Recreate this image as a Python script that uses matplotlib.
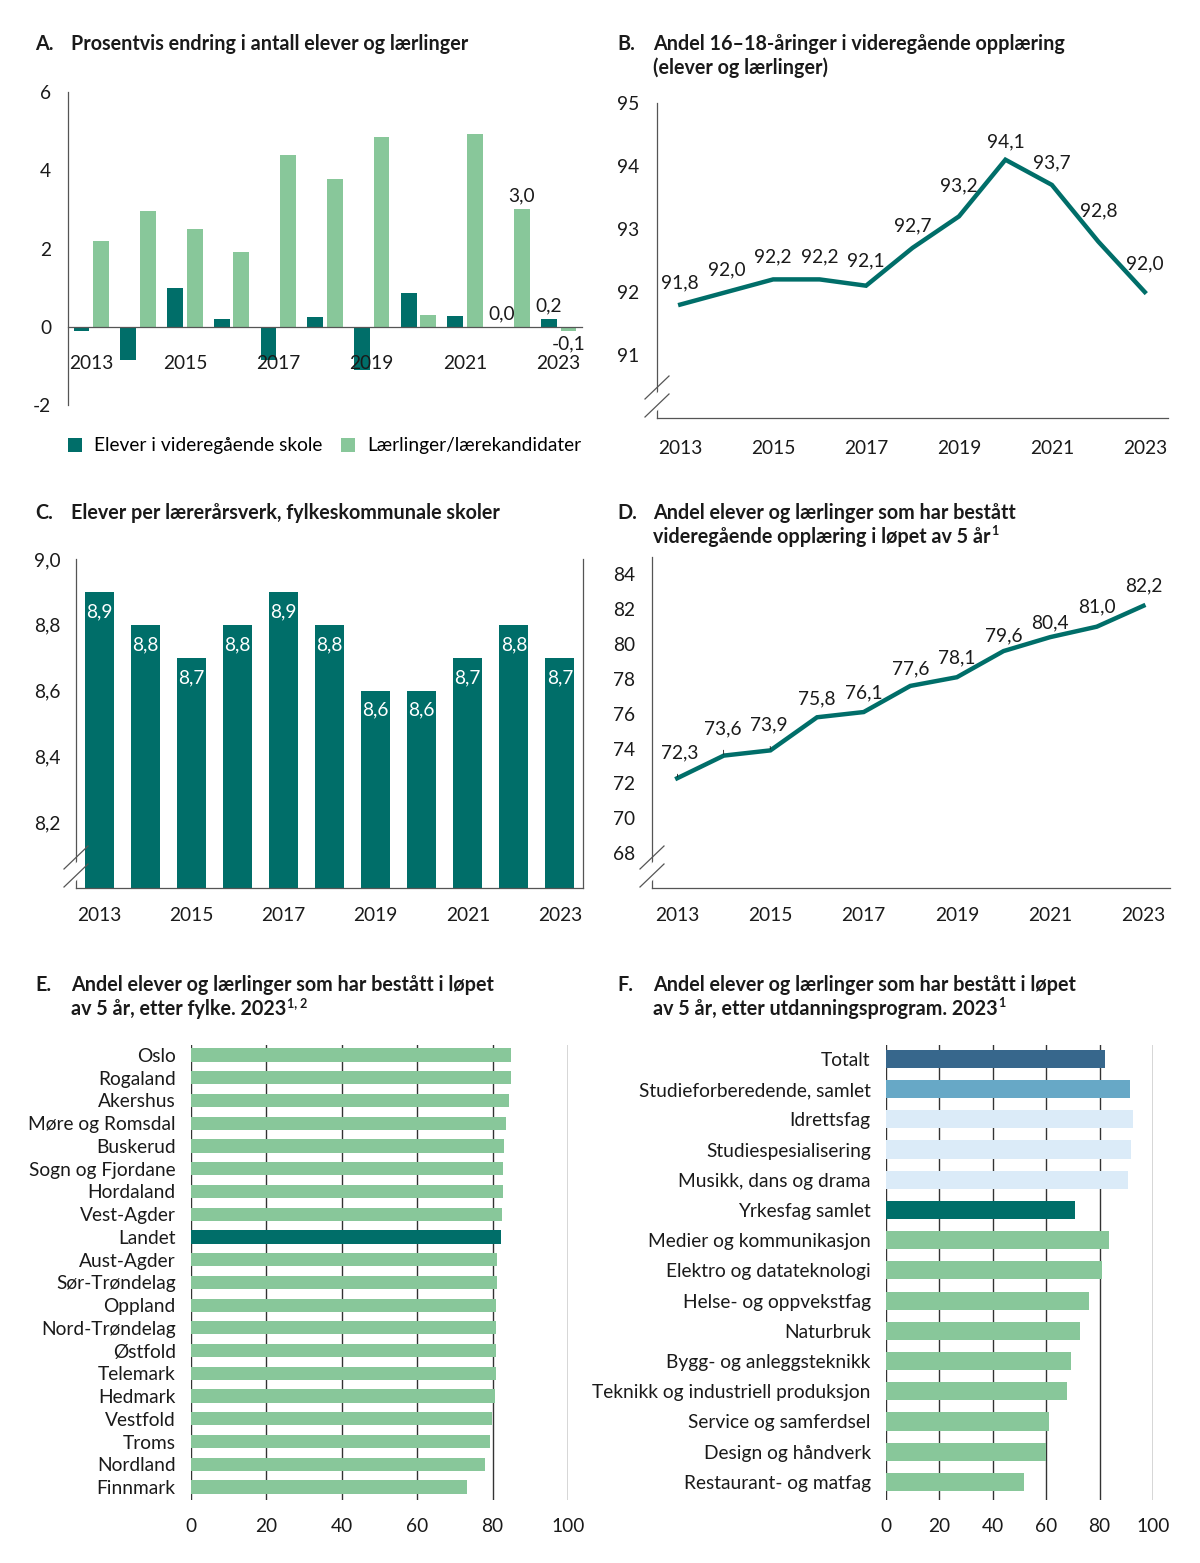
import numpy as np
import matplotlib
matplotlib.use('Agg')
import matplotlib.pyplot as plt
from matplotlib.lines import Line2D
from matplotlib.patches import Polygon

plt.rcParams['font.family'] = ['Lato', 'DejaVu Sans']
plt.rcParams['axes.unicode_minus'] = False

# ---- data ----
years = np.arange(2013, 2024)

# A: prosentvis endring
elever_endring = [-0.1, -0.85, 1.0, 0.2, -0.85, 0.26, -1.1, 0.87, 0.27, 0.0, 0.2]
laerlinger_endring = [2.18, 2.96, 2.51, 1.9, 4.38, 3.78, 4.86, 0.3, 4.92, 3.0, -0.1]

# B: andel 16-18-aaringer
andel_1618 = [91.8, 92.0, 92.2, 92.2, 92.1, 92.7, 93.2, 94.1, 93.7, 92.8, 92.0]

# C: elever per laerearsverk
elever_per_laerer = [8.9, 8.8, 8.7, 8.8, 8.9, 8.8, 8.6, 8.6, 8.7, 8.8, 8.7]

# D: bestatt i lopet av 5 aar
bestatt_5aar = [72.3, 73.6, 73.9, 75.8, 76.1, 77.6, 78.1, 79.6, 80.4, 81.0, 82.2]

# E: etter fylke
fylker = ['Oslo', 'Rogaland', 'Akershus', 'Møre og Romsdal', 'Buskerud',
          'Sogn og Fjordane', 'Hordaland', 'Vest-Agder', 'Landet', 'Aust-Agder',
          'Sør-Trøndelag', 'Oppland', 'Nord-Trøndelag', 'Østfold', 'Telemark',
          'Hedmark', 'Vestfold', 'Troms', 'Nordland', 'Finnmark']
fylke_andel = [84.9, 84.8, 84.4, 83.5, 83.1, 82.8, 82.7, 82.4, 82.2, 81.2,
               81.1, 81.0, 80.9, 80.9, 80.8, 80.7, 79.9, 79.3, 77.9, 73.1]

# F: etter utdanningsprogram
program = ['Totalt', 'Studieforberedende, samlet', 'Idrettsfag', 'Studiespesialisering',
           'Musikk, dans og drama', 'Yrkesfag samlet', 'Medier og kommunikasjon',
           'Elektro og datateknologi', 'Helse- og oppvekstfag', 'Naturbruk',
           'Bygg- og anleggsteknikk', 'Teknikk og industriell produksjon',
           'Service og samferdsel', 'Design og håndverk', 'Restaurant- og matfag']
program_andel = [82.2, 91.3, 92.6, 91.8, 90.7, 70.9, 83.5, 80.8, 75.9, 72.6,
                 69.2, 67.8, 61.2, 60.0, 51.7]

# ---- style ----
TEAL = '#006e69'
LGREEN = '#88c79a'
NAVY = '#37678c'
MBLUE = '#67a8c6'
LBLUE = '#dbebf8'
AXC = '#555555'
TXT = '#1a1a1a'
FS = 13.8
TFS = 14.2

W, H = 1200, 1563
fig = plt.figure(figsize=(W / 100, H / 100), dpi=100)
renderer = fig.canvas.get_renderer()


def add_ax(l, t, r, b):
    return fig.add_axes([l / W, 1 - b / H, (r - l) / W, (b - t) / H])


def fmt(v):
    return f'{v:.1f}'.replace('.', ',')


def title(x, y, letter, lines, sup=None):
    fig.text(x / W, 1 - y / H, letter, fontsize=TFS, fontweight='bold', color=TXT, va='center')
    t = None
    for i, s in enumerate(lines):
        t = fig.text((x + 36) / W, 1 - (y + 24 * i) / H, s, fontsize=TFS, fontweight='bold',
                     color=TXT, va='center')
    if sup:
        bb = t.get_window_extent(renderer)
        fig.text((bb.x1 + 1) / W, (bb.y1 + 2) / H, sup, fontsize=9, fontweight='bold',
                 color=TXT, va='top', ha='left')


def axis_break(x0, yb):
    p1 = [(x0 - 12, yb - 19), (x0 + 12, yb - 42)]
    p2 = [(x0 - 12, yb - 1), (x0 + 12, yb - 24)]
    mask = [(x0 - 3, yb - 22), (x0 + 3, yb - 28), (x0 + 3, yb - 10), (x0 - 3, yb - 4)]
    fig.add_artist(Polygon([(x / W, 1 - y / H) for x, y in mask], closed=True,
                           facecolor='white', edgecolor='none', transform=fig.transFigure, zorder=5))
    for p in (p1, p2):
        fig.add_artist(Line2D([p[0][0] / W, p[1][0] / W], [1 - p[0][1] / H, 1 - p[1][1] / H],
                              color=AXC, lw=0.9, transform=fig.transFigure, zorder=6))


def clean(ax):
    for s in ['top', 'right']:
        ax.spines[s].set_visible(False)
    for s in ['left', 'bottom']:
        ax.spines[s].set_color(AXC)
        ax.spines[s].set_linewidth(0.9)
    ax.tick_params(length=0, labelsize=FS, colors=TXT)


# ---- A ----
ax = add_ax(68, 92, 582, 405)
clean(ax)
bw = 0.34
ax.bar(years - 0.21, elever_endring, bw, color=TEAL, label='Elever i videregående skole')
ax.bar(years + 0.21, laerlinger_endring, bw, color=LGREEN, label='Lærlinger/lærekandidater')
ax.set_xlim(2012.5, 2023.5)
ax.set_ylim(-2, 6)
ax.set_yticks([-2, 0, 2, 4, 6])
ax.spines['bottom'].set_position(('data', 0))
ax.set_xticks(years[::2])
ax.set_xticklabels([str(y) for y in years[::2]])
ax.tick_params(axis='x', pad=20)
ax.tick_params(axis='y', pad=12)
for yr in (2022, 2023):
    i = yr - 2013
    for off, vals in ((-0.21, elever_endring), (0.21, laerlinger_endring)):
        v = vals[i]
        if v >= 0:
            ax.text(yr + off, v + 0.12, fmt(v), ha='center', va='bottom', fontsize=FS, color=TXT)
        else:
            ax.text(yr + off, v - 0.12, fmt(v), ha='center', va='top', fontsize=FS, color=TXT)
ax.legend(loc='center left', bbox_to_anchor=(60 / W, 1 - 446 / H), bbox_transform=fig.transFigure,
          ncol=2, frameon=False, fontsize=FS, handlelength=0.75, handleheight=0.75,
          handletextpad=0.6, columnspacing=1.0, borderaxespad=0)
title(35, 44, 'A.', ['Prosentvis endring i antall elever og lærlinger'])

# ---- B ----
ax = add_ax(657, 103, 1168, 418)
clean(ax)
ax.plot(years, andel_1618, color=TEAL, lw=3.2, solid_joinstyle='miter')
ax.set_xlim(2012.5, 2023.5)
ax.set_ylim(90, 95)
ax.set_yticks([91, 92, 93, 94, 95])
ax.set_xticks(years[::2])
ax.tick_params(axis='x', pad=16)
ax.tick_params(axis='y', pad=13)
label_dy_b = [16, 16, 16, 16, 18, 16, 22, 13, 16, 22, 20]
for x, v, dy in zip(years, andel_1618, label_dy_b):
    ax.annotate(fmt(v), (x, v), xytext=(0, dy), textcoords='offset points',
                ha='center', va='center', fontsize=FS, color=TXT)
axis_break(657, 418)
title(617, 44, 'B.', ['Andel 16–18-åringer i videregående opplæring', '(elever og lærlinger)'])

# ---- C ----
ax = add_ax(76, 559, 583, 888)
clean(ax)
ax.spines['right'].set_visible(True)
ax.spines['right'].set_color(AXC)
ax.spines['right'].set_linewidth(0.9)
ax.bar(years, elever_per_laerer, 0.63, color=TEAL)
ax.set_xlim(2012.5, 2023.5)
ax.set_ylim(8.0, 9.0)
ax.set_yticks([8.2, 8.4, 8.6, 8.8, 9.0])
ax.set_yticklabels([fmt(v) for v in [8.2, 8.4, 8.6, 8.8, 9.0]])
ax.set_xticks(years[::2])
ax.tick_params(axis='x', pad=14)
ax.tick_params(axis='y', pad=11)
for x, v in zip(years, elever_per_laerer):
    ax.text(x, v - 0.06, fmt(v), ha='center', va='center', fontsize=FS, color='white')
axis_break(76, 888)
title(35, 513, 'C.', ['Elever per lærerårsverk, fylkeskommunale skoler'])

# ---- D ----
ax = add_ax(652, 557, 1170, 888)
clean(ax)
ax.plot(years, bestatt_5aar, color=TEAL, lw=3.2, solid_joinstyle='miter')
ax.set_xlim(2012.46, 2023.57)
ax.set_ylim(66, 85)
ax.set_yticks(np.arange(68, 85, 2))
ax.set_xticks(years[::2])
ax.tick_params(axis='x', pad=14)
ax.tick_params(axis='y', pad=12)
label_dy_d = [18, 19, 18, 13, 14, 12, 14, 11, 10, 14, 14]
for i, (x, v, dy) in enumerate(zip(years, bestatt_5aar, label_dy_d)):
    if i < 3:
        ax.annotate(fmt(v), (x, v), xytext=(2 if i == 0 else -1, dy), textcoords='offset points',
                    ha='center', va='center', fontsize=FS, color=TXT,
                    arrowprops=dict(arrowstyle='-', color=TXT, lw=0.6, shrinkA=7, shrinkB=1))
    else:
        ax.annotate(fmt(v), (x, v), xytext=(0, dy), textcoords='offset points',
                    ha='center', va='center', fontsize=FS, color=TXT)
axis_break(652, 888)
title(617, 513, 'D.', ['Andel elever og lærlinger som har bestått',
                       'videregående opplæring i løpet av 5 år'], sup='1')


# ---- E and F ----
def hbars(ax, labels, vals, colors, height):
    n = len(labels)
    ax.barh(np.arange(n), vals, height, color=colors, zorder=2)
    ax.set_yticks(np.arange(n))
    ax.set_yticklabels(labels)
    for s in ax.spines.values():
        s.set_visible(False)
    ax.set_xlim(0, 100)
    ax.set_xticks([0, 20, 40, 60, 80, 100])
    ax.set_axisbelow(True)
    ax.grid(axis='x', color='#333333', lw=1.0)
    ax.tick_params(length=0, labelsize=FS, colors=TXT)
    ax.tick_params(axis='y', pad=11)
    ax.tick_params(axis='x', pad=13)


ax = add_ax(191, 1045, 568, 1500)
e_colors = [TEAL if f == 'Landet' else LGREEN for f in fylker]
hbars(ax, fylker, fylke_andel, e_colors, 0.58)
ax.set_ylim(len(fylker) - 1 + 0.57, -0.44)
title(35, 985, 'E.', ['Andel elever og lærlinger som har bestått i løpet',
                      'av 5 år, etter fylke. 2023'], sup='1, 2')

ax = add_ax(886, 1045, 1153, 1500)
f_colors = [NAVY, MBLUE, LBLUE, LBLUE, LBLUE, TEAL] + [LGREEN] * 9
hbars(ax, program, program_andel, f_colors, 0.6)
ax.set_ylim(len(program) - 1 + 0.6, -0.46)
title(617, 985, 'F.', ['Andel elever og lærlinger som har bestått i løpet',
                       'av 5 år, etter utdanningsprogram. 2023'], sup='1')

fig.savefig('out.png', dpi=100)
